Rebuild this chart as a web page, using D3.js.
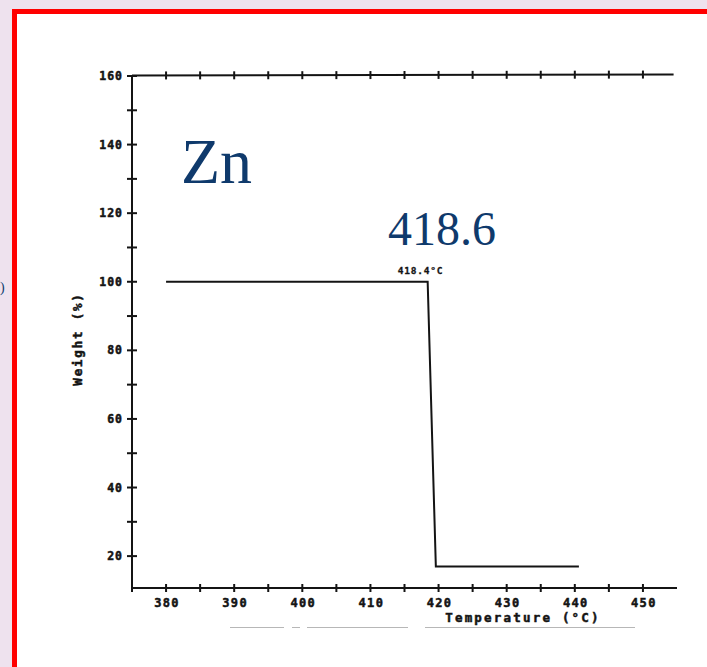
<!DOCTYPE html>
<html>
<head>
<meta charset="utf-8">
<script src="https://cdn.jsdelivr.net/npm/d3@7"></script>
<style>
  html, body { margin: 0; padding: 0; background: #eee2ee; }
  svg { display: block; }
</style>
</head>
<body>
<svg id="chart" width="707" height="667"></svg>
<script>
// TGA trace of zinc: weight (%) against temperature (°C)
const temperature = [380, 418.4, 419.6, 440.6];
const weight = [100, 100, 17, 17];

const xTicks = [375, 380, 385, 390, 395, 400, 405, 410, 415, 420, 425, 430, 435, 440, 445, 450];
const xTickLabels = [380, 390, 400, 410, 420, 430, 440, 450];
const yTicks = [20, 30, 40, 50, 60, 70, 80, 90, 100, 110, 120, 130, 140, 150, 160];
const yTickLabels = [20, 40, 60, 80, 100, 120, 140, 160];

const elementName = "Zn";
const meltLabel = "418.6";
const onsetLabel = "418.4°C";
const onsetTemp = 418.4;

const svg = d3.select("#chart");
const ink = "#141414";
const navy = "#0f3a6c";
const mono = "'DejaVu Sans Mono', 'Liberation Mono', monospace";

// slide background and red frame
svg.append("rect").attr("x", 0).attr("y", 0).attr("width", 707).attr("height", 667).attr("fill", "#eee2ee");
svg.append("rect").attr("x", 14.5).attr("y", 11.5).attr("width", 720).attr("height", 680)
  .attr("fill", "#ffffff").attr("stroke", "#ff0000").attr("stroke-width", 5);

// small bracket glyph beside the frame
svg.append("text").attr("x", 0).attr("y", 292).attr("fill", navy)
  .attr("font-family", "'Liberation Serif', serif").attr("font-size", 14).text(")");

const x = d3.scaleLinear().domain([375, 455]).range([132, 677]);
const y = d3.scaleLinear().domain([10.7, 160]).range([588, 76]);

const axisG = svg.append("g").attr("stroke", ink).attr("stroke-width", 2).attr("fill", "none");

// frame lines: left, bottom, top
axisG.append("line").attr("x1", x(375)).attr("x2", x(375)).attr("y1", y(160)).attr("y2", y(10.7));
axisG.append("line").attr("x1", x(375)).attr("x2", x(455)).attr("y1", y(10.7)).attr("y2", y(10.7));
axisG.append("line").attr("x1", x(375)).attr("x2", x(454.5)).attr("y1", y(160) - 0.5).attr("y2", y(160) - 1.5);

// ticks crossing the axes
axisG.selectAll(".yt").data(yTicks).join("line")
  .attr("x1", x(375) - 5).attr("x2", x(375) + 5)
  .attr("y1", d => y(d)).attr("y2", d => y(d));
axisG.selectAll(".xb").data(xTicks).join("line")
  .attr("x1", d => x(d)).attr("x2", d => x(d))
  .attr("y1", y(10.7) - 4).attr("y2", y(10.7) + 4);
axisG.selectAll(".xt").data(xTicks.slice(1)).join("line")
  .attr("x1", d => x(d)).attr("x2", d => x(d))
  .attr("y1", d => y(160) - 0.5 - (d - 375) / 80 - 4).attr("y2", d => y(160) - 0.5 - (d - 375) / 80 + 4);

// tick labels (heavy plotter lettering)
function plotterText(sel, size, spacing) {
  return sel.attr("font-family", mono).attr("font-weight", "bold")
    .attr("font-size", size).attr("letter-spacing", spacing)
    .attr("fill", ink).attr("stroke", ink).attr("stroke-width", 0.5);
}
plotterText(svg.append("g").selectAll("text").data(yTickLabels).join("text")
  .attr("x", x(375) - 9).attr("y", d => y(d) + 4)
  .attr("text-anchor", "end"), 11.5, 1.0)
  .text(d => d);
plotterText(svg.append("g").selectAll("text").data(xTickLabels).join("text")
  .attr("x", d => x(d) + 1).attr("y", 607)
  .attr("text-anchor", "middle"), 12, 1.4)
  .text(d => d);

// axis titles
plotterText(svg.append("text").attr("x", 523).attr("y", 622).attr("text-anchor", "middle"), 12.5, 2.2)
  .text("Temperature (°C)");
plotterText(svg.append("text").attr("transform", "translate(82,339) rotate(-90)").attr("text-anchor", "middle"), 12.5, 1.8)
  .text("Weight (%)");

// faint scan streak under the axis title
const streak = svg.append("g").attr("stroke", "#9a9a9a").attr("stroke-width", 1).attr("opacity", 0.7);
[[230, 284], [292, 300], [307, 408], [425, 635]].forEach(([a, b]) => {
  streak.append("line").attr("x1", a).attr("x2", b).attr("y1", 627.5).attr("y2", 627.5);
});

// weight trace
const line = d3.line().x((d, i) => x(temperature[i])).y(d => y(d));
svg.append("path").datum(weight).attr("d", line)
  .attr("fill", "none").attr("stroke", ink).attr("stroke-width", 2).attr("stroke-linejoin", "miter");

// onset annotation at the step
plotterText(svg.append("text").attr("x", x(onsetTemp) - 30).attr("y", 274), 9.5, 0.8)
  .attr("stroke-width", 0.3).text(onsetLabel);

// slide titles
svg.append("text").attr("x", 181).attr("y", 183).attr("fill", navy)
  .attr("font-family", "'Liberation Serif', 'Times New Roman', serif").attr("font-size", 64)
  .text(elementName);
svg.append("text").attr("x", 388).attr("y", 245).attr("fill", navy)
  .attr("font-family", "'Liberation Serif', 'Times New Roman', serif").attr("font-size", 48)
  .text(meltLabel);
</script>
</body>
</html>
